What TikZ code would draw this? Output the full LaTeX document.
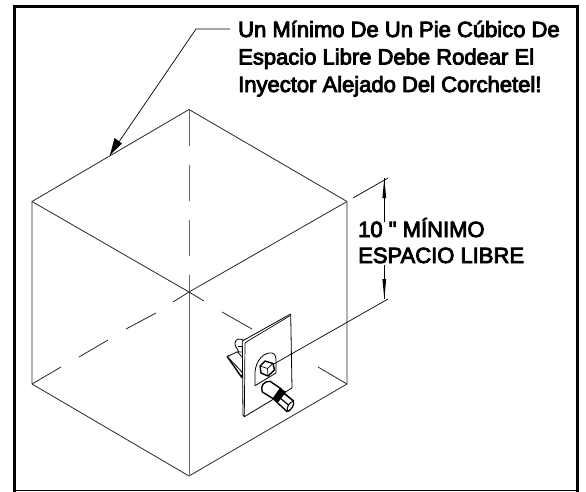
\documentclass[tikz,border=0pt]{standalone}
\usepackage{fontspec}
\newfontfamily\lab{Liberation Sans}
\usetikzlibrary{arrows.meta}
\newcommand{\stroked}{\special{pdf:code 2 Tr 0.85 w}}
\newcommand{\unstroked}{\special{pdf:code 0 Tr}}
\tikzset{
  cube/.style={line width=0.8pt,black!85},
  vert/.style={line width=1pt,black!60},
  inj/.style={line width=0.8pt,black,fill=white,line join=round},
  heavy/.style={line width=1.4pt,black,fill=white,line join=round},
  thin line/.style={line width=0.7pt,black},
  lbl/.style={inner sep=0pt,align=left,anchor=base west,font=\lab\fontsize{22}{27.5}\selectfont},
  lblb/.style={inner sep=0pt,align=left,anchor=base west,font=\lab\fontsize{22}{26}\selectfont}
}
\begin{document}
\begin{tikzpicture}[x=1pt,y=-1pt]
\useasboundingbox (0,0) rectangle (586,491);
% frame
\draw[line width=2.7pt] (14.6,491.5) -- (14.6,6.4) -- (577.5,6.4) -- (577.5,491.5);
\draw[line width=1.2pt] (14.6,490.2) -- (577.5,490.2);
% cube vertices
\coordinate (T) at (189,109.5);
\coordinate (L) at (32,201.5);
\coordinate (R) at (347,201.5);
\coordinate (C) at (189,292);
\coordinate (BL) at (32,384);
\coordinate (BR) at (347,384);
\coordinate (B) at (189,476);
\draw[cube] (T) -- (R) (R) -- (BR) -- (B) -- (BL) -- (L) -- (T);
\draw[cube] (L) -- (C) -- (R);
\draw[vert] (C) -- (B);
\draw[vert] (T) -- (189,146) (189,165) -- (189,201) (189,220) -- (189,256) (189,275) -- (C);
% hidden dash lines
\draw[cube] (C) -- (173,302) (156,313) -- (126,329) (108,340) -- (79,357) (61,367) -- (BL);
\draw[cube] (C) -- (204,301) (222,312) -- (252,329) (318,367) -- (BR);
% leader
\coordinate (lk) at (196,29);
\coordinate (lt) at (110,155);
\draw[thin line] (230,29) -- (lk) -- (lt);
\fill (lt) -- (114.5,138) -- (122,143.5) -- cycle;
% dimension
\draw[thin line] (353,198) -- (388,178);
\draw[thin line] (272,365) -- (388,299);
\draw[thin line] (384.3,178) -- (384.3,222);
\draw[thin line] (384.3,265) -- (384.3,299);
\fill (384.3,178) -- (382.4,198) -- (386.2,198) -- cycle;
\fill (384.3,299) -- (382.4,279) -- (386.2,279) -- cycle;
% bracket behind plate
\draw[heavy] (227.3,356.7) -- (241.7,377.3) -- (243,373) -- (229.5,355.5) -- cycle;
\draw[inj] (227.3,356.7) -- (237.3,351.7) -- (243,358) -- (243,373) -- cycle;
\draw[inj] (236,347) .. controls (233,341) and (237,337) .. (243,340) -- (243,352) -- (239,352) -- cycle;
\draw[thin line] (237.5,346) -- (243,346);
% plate
\draw[inj] (242.3,341) -- (290,314.3) -- (290.7,315) -- (292,388) -- (244.3,416.7) -- (243,415) -- cycle;
\draw[thin line] (245,342.7) -- (290.7,315.3);
\draw[thin line] (245,342.7) -- (244.3,416.7);
% window
\draw[inj] (255,385.7) -- (255,372) .. controls (256,360) and (264,352) .. (272,353) .. controls (276,354) and (276,358) .. (276,362) -- (276,373) -- cycle;
% nut
\draw[heavy] (260,366) -- (265,361) -- (273,363.5) -- (274.5,370) -- (268,376) -- (261,373) -- cycle;
\draw[thin line] (260,366) -- (267.5,368.5) -- (273,363.5);
\draw[thin line] (267.5,368.5) -- (268,376);
\draw[thin line] (273,364.5) -- (291,354.2);
% lower fitting
\draw[heavy] (270,381.3) -- (281,388.7) -- (273.3,398.7) -- (262.3,392) .. controls (260,386) and (264,381) .. (270,381.3) -- cycle;
\draw[heavy] (281.7,391.5) -- (293.5,401) .. controls (295,404) and (290,412) .. (287,411.5) -- (274.5,400) -- cycle;
\fill[black] (280,387.7) -- (286,392) -- (278,402.5) -- (272.5,398.7) -- cycle;
\draw[line width=1.2pt] (280,398) -- (291.5,407.5) (284.5,393.5) -- (293.5,401);
\draw[line width=1pt,fill=white] (293.3,401.5) .. controls (295,404) and (290.5,411.5) .. (287.3,411) .. controls (286,408) and (290,401) .. cycle;
% texts
\node[lbl] (note) at (238,92) {\stroked Un Mínimo De Un Pie Cúbico De\\\stroked Espacio Libre Debe Rodear El\\\stroked Inyector Alejado Del Corchetel!\unstroked};
\node[lblb] (dim) at (358,263) {\stroked 10 " MÍNIMO\\\stroked ESPACIO LIBRE\unstroked};
\end{tikzpicture}
\end{document}
